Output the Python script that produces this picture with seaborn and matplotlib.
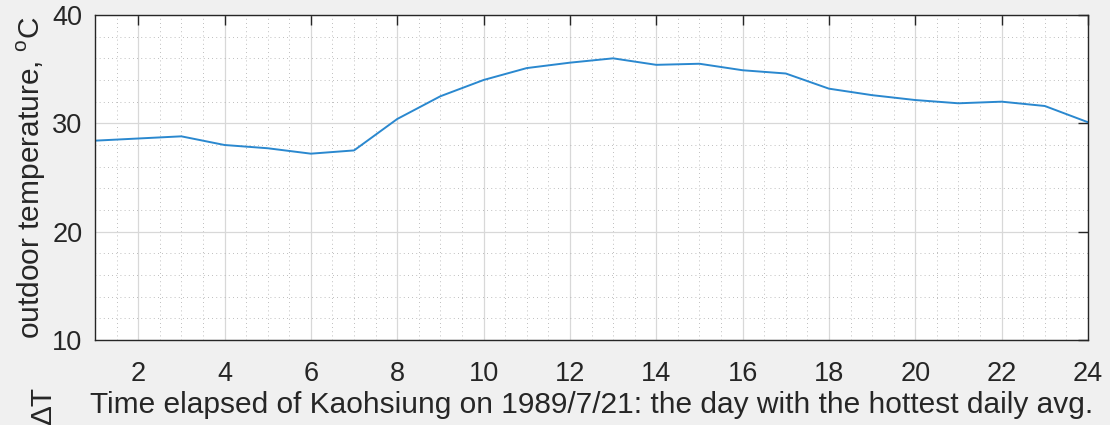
import numpy as np
import pandas as pd
import matplotlib
matplotlib.use("Agg")
import matplotlib.pyplot as plt
from matplotlib.ticker import MultipleLocator
import seaborn as sns

# Hourly outdoor temperature, Kaohsiung, 1989/7/21
hours = list(range(1, 25))
temps = [28.4, 28.6, 28.8, 28.0, 27.7, 27.2, 27.5, 30.4, 32.5, 34.0,
         35.1, 35.6, 36.0, 35.4, 35.5, 34.9, 34.6, 33.2, 32.6, 32.15,
         31.85, 32.0, 31.6, 30.1]
x_ticks = list(range(2, 25, 2))
y_ticks = [10, 20, 30, 40]

df = pd.DataFrame({"hour": hours, "temp": temps})

sns.set_style("white")
plt.rcParams["font.family"] = ["Liberation Sans", "DejaVu Sans"]
plt.rcParams["mathtext.fontset"] = "custom"
plt.rcParams["mathtext.rm"] = "Liberation Sans"

TICK_FS = 19.5
LABEL_FS = 21.5
INK = "#262626"

fig = plt.figure(figsize=(11.1, 4.25), dpi=100, facecolor="#f0f0f0")
ax = fig.add_axes([95 / 1110, 1 - 340 / 425, (1088 - 95) / 1110, (340 - 15) / 425])
ax.set_facecolor("white")

sns.lineplot(data=df, x="hour", y="temp", ax=ax, color="#2a88cf", linewidth=1.4)

ax.set_xlim(1, 24)
ax.set_ylim(10, 40)
ax.set_xticks(x_ticks)
ax.set_yticks(y_ticks)
ax.xaxis.set_minor_locator(MultipleLocator(0.5))
ax.yaxis.set_minor_locator(MultipleLocator(2))

ax.grid(which="major", color="#d8d8d8", linewidth=0.9, linestyle="-")
ax.grid(which="minor", color="#a8a8a8", linewidth=0.6, linestyle=(0, (1, 4)))
ax.set_axisbelow(True)

for s in ax.spines.values():
    s.set_color(INK)
    s.set_linewidth(1.0)

ax.tick_params(which="major", direction="in", length=7, width=1.0, color=INK,
               top=True, right=True, labelsize=TICK_FS, labelcolor=INK)
ax.tick_params(axis="x", which="major", pad=15)
ax.tick_params(axis="y", which="major", pad=9)
ax.tick_params(which="minor", length=0)

ax.set_xlabel("Time elapsed of Kaohsiung on 1989/7/21: the day with the hottest daily avg.",
              fontsize=LABEL_FS, color=INK, labelpad=3)
ax.set_ylabel("outdoor temperature, $^{\\mathrm{o}}$C", fontsize=LABEL_FS, color=INK,
              labelpad=3)

# y label of the panel below, only its upper end falls inside the figure
fig.text(43 / 1110, 1 - 387 / 425, "ΔT", rotation=90, ha="center", va="top",
         fontsize=LABEL_FS, color=INK)

fig.savefig("out.png", dpi=100, facecolor=fig.get_facecolor())
